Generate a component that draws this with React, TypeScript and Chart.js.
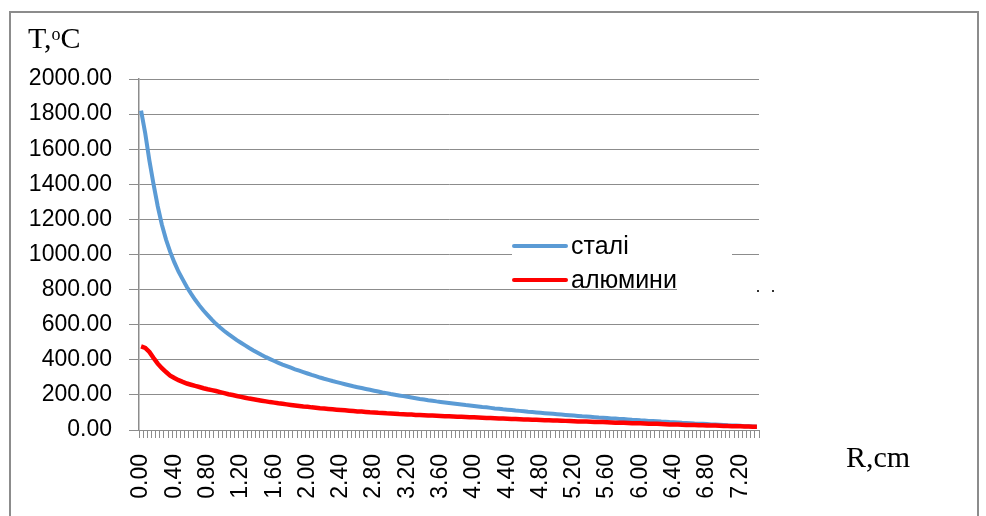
import { useEffect, useRef } from "react";
import { Chart, registerables } from "chart.js";

Chart.register(...registerables);

const categories = [
  "0.00","0.05","0.10","0.15","0.20","0.25","0.30","0.35","0.40","0.45",
  "0.50","0.55","0.60","0.65","0.70","0.75","0.80","0.85","0.90","0.95",
  "1.00","1.05","1.10","1.15","1.20","1.25","1.30","1.35","1.40","1.45",
  "1.50","1.55","1.60","1.65","1.70","1.75","1.80","1.85","1.90","1.95",
  "2.00","2.05","2.10","2.15","2.20","2.25","2.30","2.35","2.40","2.45",
  "2.50","2.55","2.60","2.65","2.70","2.75","2.80","2.85","2.90","2.95",
  "3.00","3.05","3.10","3.15","3.20","3.25","3.30","3.35","3.40","3.45",
  "3.50","3.55","3.60","3.65","3.70","3.75","3.80","3.85","3.90","3.95",
  "4.00","4.05","4.10","4.15","4.20","4.25","4.30","4.35","4.40","4.45",
  "4.50","4.55","4.60","4.65","4.70","4.75","4.80","4.85","4.90","4.95",
  "5.00","5.05","5.10","5.15","5.20","5.25","5.30","5.35","5.40","5.45",
  "5.50","5.55","5.60","5.65","5.70","5.75","5.80","5.85","5.90","5.95",
  "6.00","6.05","6.10","6.15","6.20","6.25","6.30","6.35","6.40","6.45",
  "6.50","6.55","6.60","6.65","6.70","6.75","6.80","6.85","6.90","6.95",
  "7.00","7.05","7.10","7.15","7.20","7.25","7.30","7.35","7.40",
];

const steelValues = [
  1820, 1690, 1535, 1400, 1275, 1170, 1085, 1015, 955, 902,
  858, 815, 777, 742, 710, 681, 655, 629, 605, 584,
  564, 546, 529, 512, 497, 482, 467, 453, 440, 427,
  415, 404, 393, 383, 373, 364, 355, 346, 338, 330,
  322, 314, 307, 299, 292, 286, 279, 273, 267, 261,
  255, 249, 244, 239, 234, 229, 224, 219, 214, 210,
  205, 201, 197, 193, 189, 185, 181, 177, 174, 170,
  167, 163, 160, 157, 154, 151, 148, 145, 142, 140,
  137, 134, 131, 129, 126, 123, 121, 118, 116, 114,
  111, 109, 107, 104, 102, 100, 98, 96, 94, 92,
  90, 88, 86, 84, 82, 80, 78, 77, 75, 73,
  71, 70, 68, 66, 65, 63, 62, 60, 58, 57,
  55, 54, 52, 51, 50, 48, 47, 45, 44, 43,
  41, 40, 39, 37, 36, 35, 34, 32, 31, 30,
  29, 27, 26, 25, 24, 22, 21, 20, 19,
];

const aluminumValues = [
  476, 468, 445, 410, 378, 352, 330, 310, 296, 284,
  274, 265, 258, 251, 245, 238, 232, 227, 222, 216,
  210, 204, 199, 194, 189, 184, 179, 175, 171, 167,
  163, 159, 156, 152, 149, 146, 143, 140, 137, 134,
  132, 129, 127, 124, 122, 120, 118, 116, 114, 112,
  110, 108, 106, 105, 103, 101, 100, 98, 97, 95,
  94, 93, 91, 90, 89, 88, 86, 85, 84, 83,
  82, 81, 80, 79, 78, 77, 76, 75, 74, 73,
  72, 71, 70, 69, 68, 67, 66, 65, 64, 63,
  62, 61, 60, 60, 59, 58, 57, 56, 55, 54,
  54, 53, 52, 51, 50, 49, 49, 48, 47, 46,
  45, 45, 44, 43, 42, 41, 41, 40, 39, 38,
  38, 37, 36, 35, 35, 34, 33, 32, 32, 31,
  30, 29, 29, 28, 27, 27, 26, 25, 25, 24,
  23, 23, 22, 21, 21, 20, 20, 19, 19,
];

const seriesNames = ["сталі", "алюмини"];
const seriesColors = ["#5b9bd5", "#ff0000"];
const yMin = 0;
const yMax = 2000;
const yStep = 200;
const labelEvery = 8;

const legendPlugin = {
  id: "customLegend",
  afterDatasetsDraw(chart: any) {
    const ctx = chart.ctx as CanvasRenderingContext2D;
    ctx.save();
    ctx.fillStyle = "#ffffff";
    ctx.fillRect(512, 236, 220, 50);
    ctx.fillRect(677, 286, 84, 6);
    ctx.fillStyle = "#333";
    ctx.fillRect(757, 290, 2, 2);
    ctx.fillRect(772, 290, 2, 2);
    const rows = [246, 280];
    ctx.lineCap = "round";
    ctx.font = "25px 'Liberation Sans', Arial, sans-serif";
    ctx.textBaseline = "alphabetic";
    for (let i = 0; i < 2; i++) {
      ctx.strokeStyle = seriesColors[i];
      ctx.lineWidth = 4;
      ctx.beginPath();
      ctx.moveTo(514, rows[i]);
      ctx.lineTo(566, rows[i]);
      ctx.stroke();
      ctx.fillStyle = "#000";
      ctx.fillText(seriesNames[i], 571, rows[i] + 8);
    }
    ctx.restore();
  },
};

export default function App() {
  const ref = useRef<HTMLCanvasElement>(null);
  useEffect(() => {
    const canvas = ref.current!;
    const chart = new Chart(canvas, {
      type: "line",
      data: {
        labels: categories,
        datasets: [
          {
            label: seriesNames[1],
            data: aluminumValues,
            borderColor: seriesColors[1],
            backgroundColor: seriesColors[1],
            borderWidth: 4.5,
            pointRadius: 0,
            tension: 0,
            order: 0,
          },
          {
            label: seriesNames[0],
            data: steelValues,
            borderColor: seriesColors[0],
            backgroundColor: seriesColors[0],
            borderWidth: 4,
            pointRadius: 0,
            tension: 0,
            order: 1,
          },
        ],
      },
      options: {
        responsive: false,
        animation: false,
        layout: { padding: { left: 0, top: 79, right: 227, bottom: 0 } },
        plugins: { legend: { display: false }, tooltip: { enabled: false } },
        scales: {
          x: {
            type: "category",
            offset: true,
            grid: {
              offset: true,
              drawOnChartArea: false,
              drawTicks: true,
              tickLength: 8,
              color: "#8c8c8c",
              lineWidth: 1,
            },
            border: { display: true, color: "#8c8c8c", width: 1 },
            ticks: {
              autoSkip: false,
              maxRotation: 90,
              minRotation: 90,
              padding: 16,
              color: "#000",
              font: { family: "'Liberation Sans', Arial, sans-serif", size: 23 },
              callback: (_v: any, i: number) => (i % labelEvery === 0 ? categories[i] : ""),
            },
            afterFit: (s: any) => {
              s.height = 86;
            },
          },
          y: {
            min: yMin,
            max: yMax,
            grid: { color: "#8c8c8c", lineWidth: 1, tickLength: 10 },
            border: { display: true, color: "#8c8c8c", width: 1.5 },
            ticks: {
              stepSize: yStep,
              padding: 17,
              color: "#000",
              font: { family: "'Liberation Sans', Arial, sans-serif", size: 23 },
              callback: (v: any) => Number(v).toFixed(2),
            },
            afterFit: (s: any) => {
              s.width = 139;
            },
          },
        },
      },
      plugins: [legendPlugin],
    } as any);
    return () => chart.destroy();
  }, []);

  return (
    <div
      style={{
        position: "absolute",
        left: 0,
        top: 0,
        width: 986,
        height: 516,
        overflow: "hidden",
        background: "#fff",
      }}
    >
      <canvas ref={ref} width={986} height={516} style={{ position: "absolute", left: 0, top: 0, width: 986, height: 516 }} />
      <div
        style={{
          position: "absolute",
          left: 9,
          top: 11,
          width: 970,
          height: 600,
          border: "2px solid #8c8c8c",
          boxSizing: "border-box",
          pointerEvents: "none",
        }}
      />
      <div
        style={{
          position: "absolute",
          left: 28,
          top: 23,
          fontFamily: "'Liberation Serif', 'Times New Roman', serif",
          fontSize: 30,
          lineHeight: "30px",
          color: "#000",
          whiteSpace: "nowrap",
        }}
      >
        T,<span style={{ fontSize: 18, position: "relative", top: -8 }}>o</span>C
      </div>
      <div
        style={{
          position: "absolute",
          left: 846,
          top: 442,
          fontFamily: "'Liberation Serif', 'Times New Roman', serif",
          fontSize: 30,
          lineHeight: "30px",
          color: "#000",
          whiteSpace: "nowrap",
        }}
      >
        R,cm
      </div>
    </div>
  );
}
